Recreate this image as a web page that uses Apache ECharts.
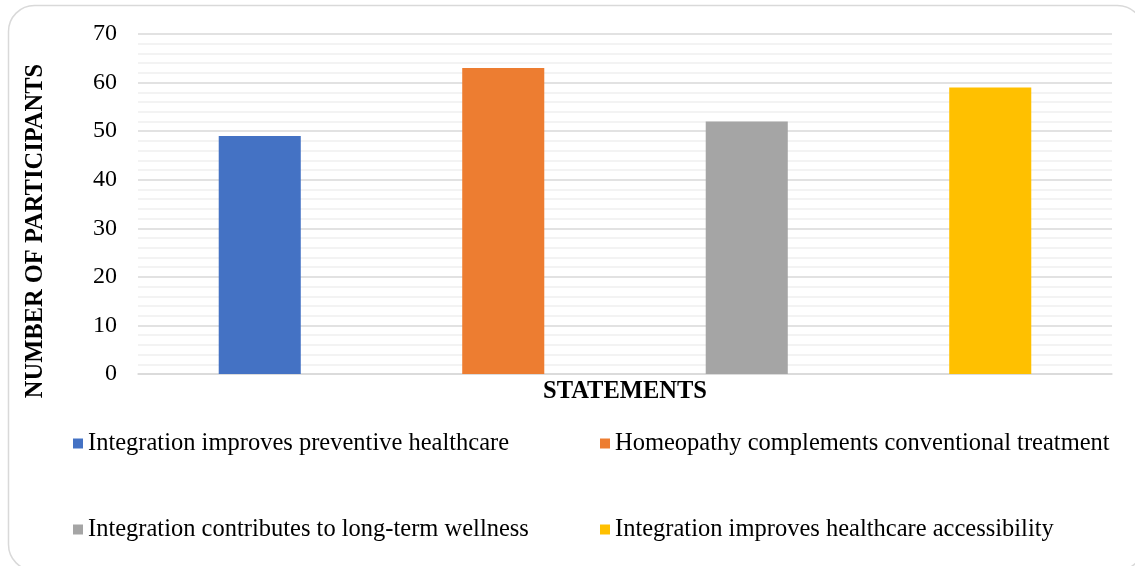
<!DOCTYPE html>
<html>
<head>
<meta charset="utf-8">
<script src="https://cdn.jsdelivr.net/npm/echarts@6/dist/echarts.min.js"></script>
<style>
  html, body { margin: 0; padding: 0; background: #fff; }
  #chart { width: 1135px; height: 566px; }
</style>
</head>
<body>
<div id="chart"></div>
<script>
(() => {
  "use strict";

  const statements = [
    "Integration improves preventive healthcare",
    "Homeopathy complements conventional treatment",
    "Integration contributes to long-term wellness",
    "Integration improves healthcare accessibility",
  ];
  const participants = [49, 63, 52, 59];
  const colors = ["#4472c4", "#ed7d31", "#a5a5a5", "#ffc000"];
  const yTicks = [0, 10, 20, 30, 40, 50, 60, 70];

  const font = "'Liberation Serif', 'Times New Roman', serif";
  const chart = echarts.init(document.getElementById("chart"), null, { renderer: "canvas" });

  // each statement is its own series so the legend gets one entry per bar
  const series = statements.map((name, i) => ({
    name,
    type: "bar",
    stack: "all",
    barWidth: "33.7%",
    itemStyle: { color: colors[i] },
    data: participants.map((v, j) => (j === i ? v : "-")),
  }));

  const legendSpots = [
    { left: 68, top: 426 },
    { left: 595, top: 426 },
    { left: 68, top: 512 },
    { left: 595, top: 512 },
  ];

  chart.setOption({
    animation: false,
    color: colors,
    graphic: [{
      type: "rect",
      shape: { x: 8.5, y: 5.5, width: 1135, height: 565, r: 26 },
      style: { fill: "none", stroke: "#d9d9d9", lineWidth: 1.5 },
      silent: true,
    }],
    grid: { left: 138, right: 23, top: 34, bottom: 192 },
    legend: statements.map((name, i) => ({
      data: [name],
      left: legendSpots[i].left,
      top: legendSpots[i].top,
      icon: "rect",
      itemWidth: 10,
      itemHeight: 10,
      textStyle: { fontFamily: font, fontSize: 24.5, color: "#000" },
      selectedMode: false,
    })),
    xAxis: {
      type: "category",
      data: statements.map(() => ""),
      name: "STATEMENTS",
      nameLocation: "middle",
      nameGap: 5,
      nameTextStyle: { fontFamily: font, fontSize: 24.5, fontWeight: "bold", color: "#000", verticalAlign: "top" },
      axisLine: { lineStyle: { color: "#d9d9d9", width: 1.5 } },
      axisTick: { show: false },
      axisLabel: { show: false },
    },
    yAxis: {
      type: "value",
      min: yTicks[0],
      max: yTicks[yTicks.length - 1],
      interval: 10,
      name: "NUMBER OF PARTICIPANTS",
      nameLocation: "middle",
      nameRotate: 90,
      nameGap: 90,
      nameTextStyle: { fontFamily: font, fontSize: 24.5, fontWeight: "bold", color: "#000", padding: [0, 54, 0, 0] },
      axisLine: { show: false },
      axisTick: { show: false },
      axisLabel: { fontFamily: font, fontSize: 24, color: "#000", margin: 21 },
      splitLine: { lineStyle: { color: "#d9d9d9", width: 1.5 } },
      minorTick: { show: false, splitNumber: 5 },
      minorSplitLine: { show: true, lineStyle: { color: "#f0f0f0", width: 1.5 } },
    },
    series,
  });
})();
</script>
</body>
</html>
